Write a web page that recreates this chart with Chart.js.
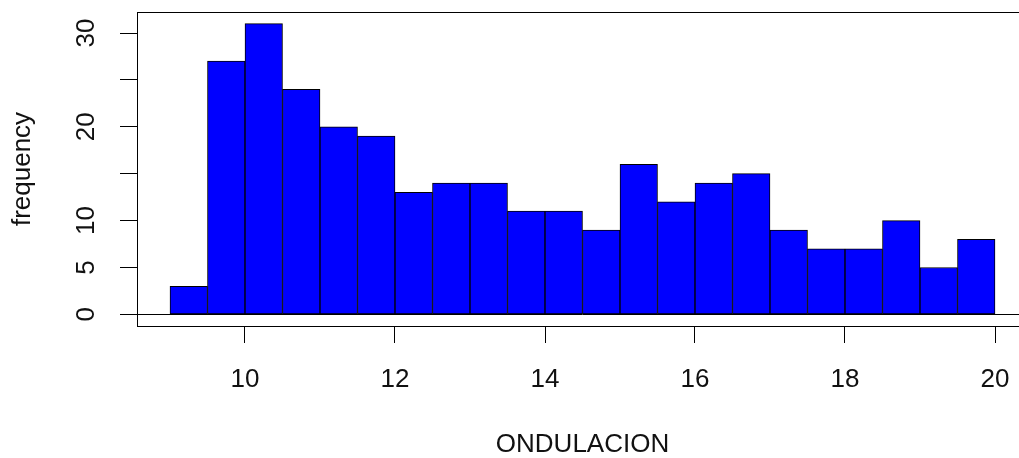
<!DOCTYPE html>
<html>
<head>
<meta charset="utf-8">
<script src="https://cdn.jsdelivr.net/npm/chart.js@4/dist/chart.umd.min.js"></script>
<style>
  html, body { margin: 0; padding: 0; background: #fff; overflow: hidden; }
  canvas { display: block; }
</style>
</head>
<body>
<canvas id="histChart" width="1040" height="458"></canvas>
<script>
// histogram bins (left edges, width 0.5) and their counts
var binStarts = [9, 9.5, 10, 10.5, 11, 11.5, 12, 12.5, 13, 13.5, 14, 14.5, 15, 15.5, 16, 16.5, 17, 17.5, 18, 18.5, 19, 19.5]
var binWidth = 0.5
var counts = [3, 27, 31, 24, 20, 19, 13, 14, 14, 11, 11, 9, 16, 12, 14, 15, 9, 7, 7, 10, 5, 8]
var xTicks = [10, 12, 14, 16, 18, 20]
var yTicks = [0, 5, 10, 15, 20, 25, 30]
var yLabelsShown = [0, 5, 10, 20, 30]
var xTitle = 'ONDULACION'
var yTitle = 'frequency'

var FONT = "'Liberation Sans', Arial, sans-serif"
var INK = '#111'

var barData = binStarts.map(function(start, i) {
  return {'x': start + binWidth / 2, 'y': counts[i]}
})

// R style box around the plot region
var boxPlugin = {
  id: 'plotBox',
  afterDraw: function(chart) {
    var a = chart.chartArea
    var ctx = chart.ctx
    ctx.save()
    ctx.strokeStyle = '#000'
    ctx.lineWidth = 1
    ctx.strokeRect(Math.round(a.left) + 0.5, Math.round(a.top) + 0.5,
                   Math.round(a.right - a.left), Math.round(a.bottom - a.top))
    ctx.restore()
  }
}

// keep label overhang from pushing the plot area around
function noOverhang(scale) {
  scale.paddingTop = 0
  scale.paddingBottom = 0
  scale.paddingLeft = 0
  scale.paddingRight = 0
}

var chartConfig = {
  type: 'bar',
  data: {
    datasets: [{
      data: barData,
      backgroundColor: '#0000ff',
      borderColor: '#000',
      borderWidth: 1,
      borderSkipped: false,
      barPercentage: 1,
      categoryPercentage: 1
    }]
  },
  options: {
    responsive: false,
    animation: false,
    devicePixelRatio: 1,
    layout: { padding: { left: 0, top: 12, right: 12, bottom: 0 } },
    plugins: {
      legend: { display: false },
      tooltip: { enabled: false }
    },
    scales: {
      x: {
        type: 'linear',
        min: 8.56,
        max: 20.44,
        offset: false,
        afterBuildTicks: function(scale) {
          scale.ticks = xTicks.map(function(v) { return {value: v} })
        },
        afterFit: function(scale) {
          scale.height = 132
          noOverhang(scale)
        },
        border: { display: false },
        grid: {
          offset: false,
          drawOnChartArea: false,
          drawTicks: true,
          tickLength: 17,
          tickColor: '#000',
          color: '#000'
        },
        ticks: {
          autoSkip: false,
          maxRotation: 0,
          padding: 21,
          color: INK,
          font: { family: FONT, size: 26 },
          callback: function(v) { return String(v) }
        },
        title: {
          display: true,
          text: xTitle,
          color: INK,
          font: { family: FONT, size: 26, lineHeight: 1 },
          padding: { top: 0, bottom: 0 }
        }
      },
      y: {
        min: -1.24,
        max: 32.24,
        afterBuildTicks: function(scale) {
          scale.ticks = yTicks.map(function(v) { return {value: v} })
        },
        afterFit: function(scale) {
          scale.width = 137
          noOverhang(scale)
        },
        border: { display: false },
        grid: {
          drawTicks: true,
          tickLength: 17,
          tickColor: '#000',
          // only the zero line runs across the plot
          color: function(ctx) {
            return ctx.tick && ctx.tick.value === 0 ? '#000' : 'rgba(0,0,0,0)'
          }
        },
        ticks: {
          autoSkip: false,
          minRotation: 90,
          maxRotation: 90,
          crossAlign: 'center',
          padding: 19,
          color: INK,
          font: { family: FONT, size: 26 },
          callback: function(v) {
            return yLabelsShown.indexOf(v) >= 0 ? String(v) : ''
          }
        },
        title: {
          display: true,
          text: yTitle,
          color: INK,
          font: { family: FONT, size: 26, lineHeight: 1 },
          padding: { top: 10, bottom: 0 }
        }
      }
    }
  },
  plugins: [boxPlugin]
}

var histChart = new Chart(document.getElementById('histChart'), chartConfig)
</script>
</body>
</html>
